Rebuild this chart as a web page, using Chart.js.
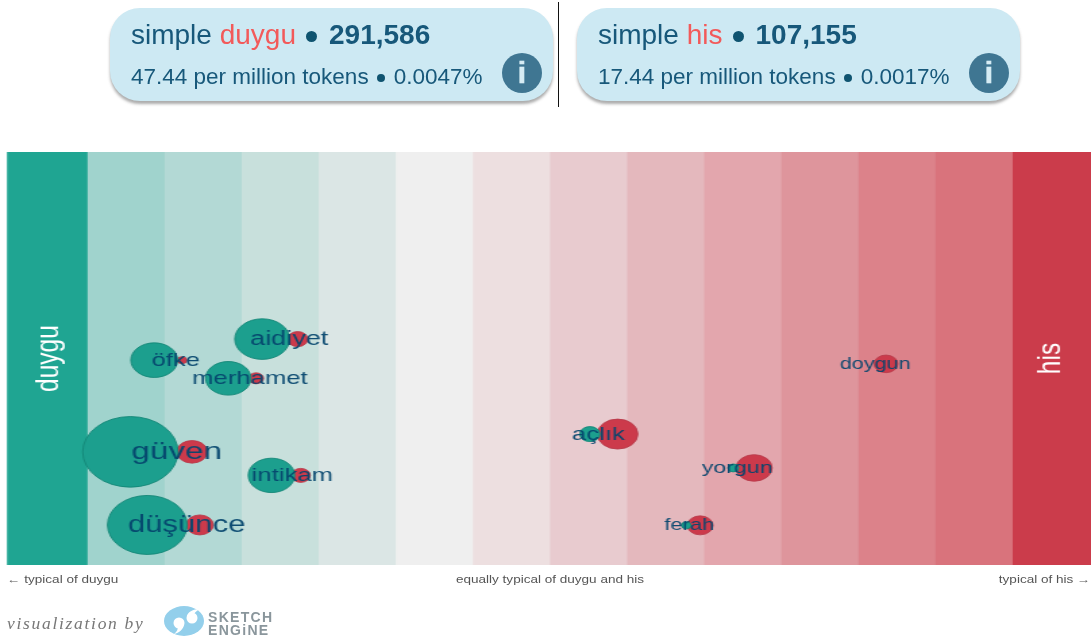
<!DOCTYPE html>
<html>
<head>
<meta charset="utf-8">
<script src="https://cdn.jsdelivr.net/npm/chart.js@4"></script>
<style>
html,body{margin:0;padding:0;background:#fff;width:1091px;height:637px;overflow:hidden;font-family:"Liberation Sans",sans-serif}
#wrap{position:absolute;left:0;top:0;width:808px;height:637px;transform:scaleX(1.35025);transform-origin:0 0;filter:blur(.35px)}
.card{position:absolute;top:8px;width:443px;height:93px;background:#cde9f3;border-radius:30px;box-shadow:0 3px 3px rgba(70,70,70,.45);color:#17587a;filter:blur(.45px)}
.l1{position:absolute;left:21px;top:10px;font-size:28px;line-height:34px;white-space:nowrap}
.l1 em{font-style:normal;color:#f25a5a}
.l1 b{font-weight:700;font-size:28px}
.l2{position:absolute;left:21px;top:56px;font-size:22.5px;line-height:26px;white-space:nowrap}
.dot{display:inline-block;border-radius:50%;background:#0f5470;vertical-align:middle}
.d1{width:11px;height:11px;margin:0 12px 0 10px}
.d2{width:8px;height:8px;margin:0 9px 0 8px}
.info{position:absolute;right:11px;top:45px;width:40px;height:40px;border-radius:50%;background:#3f7692;color:#d6ecf4;font:700 30px/40px "Liberation Sans",sans-serif;text-align:center;-webkit-text-stroke:.6px #d6ecf4}
#sep{position:absolute;left:558px;top:2px;width:1px;height:105px;background:#111}
.foot{position:absolute;top:572px;font:11px/14px "Liberation Sans",sans-serif;color:#555;white-space:nowrap;filter:blur(.3px)}
#viz{position:absolute;left:7px;top:612px;font:italic 17.5px/22px "Liberation Serif",serif;letter-spacing:1.7px;color:#777;white-space:nowrap;filter:blur(.4px)}
#logo{position:absolute;left:163px;top:604px;filter:blur(.4px)}
</style>
</head>
<body>
<div class="card" style="left:110px"><div class="l1">simple <em>duygu</em><span class="dot d1"></span><b>291,586</b></div><div class="l2">47.44 per million tokens<span class="dot d2"></span>0.0047%</div><div class="info">i</div></div>
<div id="sep"></div>
<div class="card" style="left:577px"><div class="l1">simple <em>his</em><span class="dot d1"></span><b>107,155</b></div><div class="l2">17.44 per million tokens<span class="dot d2"></span>0.0017%</div><div class="info">i</div></div>
<div id="wrap"><canvas id="c" width="808" height="637"></canvas></div>
<div class="foot" style="left:7px;transform:scaleX(1.23);transform-origin:0 0">← typical of duygu</div>
<div class="foot" style="left:550px;transform:translateX(-50%) scaleX(1.23)">equally typical of duygu and his</div>
<div class="foot" style="right:0;transform:scaleX(1.23);transform-origin:100% 0">typical of his →</div>
<div id="viz">visualization by</div>
<svg id="logo" width="115" height="33" viewBox="0 0 115 33">
<ellipse cx="21" cy="17" rx="20" ry="15" fill="#93cfeb"/>
<circle cx="16" cy="19" r="5.500" fill="#fff"/><path d="M21 20c0 5-5 9-10 10c3-2 4-5 4-8z" fill="#fff"/>
<circle cx="29" cy="14" r="5.500" fill="#fff"/><path d="M24 13c0-5 6-8 13-8c-4 2-6 4-7 7z" fill="#fff"/>
<text x="45" y="18" font-family="Liberation Sans, sans-serif" font-size="14" font-weight="700" letter-spacing="1.3" fill="#8a969c">SKETCH</text>
<text x="45" y="31" font-family="Liberation Sans, sans-serif" font-size="14" font-weight="700" letter-spacing="1.3" fill="#8a969c">ENGiNE</text>
</svg>
<script>
const words = ["öfke","aidiyet","merhamet","güven","intikam","düşünce","açlık","yorgun","ferah","doygun"];
const rowY = [49.6,54.7,45.2,27.4,21.7,9.7,31.7,23.5,9.6,48.7];
const duyguX = [1.86,3.26,2.82,1.55,3.38,1.77,7.51,9.37,8.76,11.3];
const hisX = [2.22,3.72,3.18,2.35,3.76,2.45,7.87,9.64,8.94,11.35];
const labelX = [2.14,3.61,3.10,2.15,3.65,2.28,7.62,9.42,8.80,11.21];
const duyguR = [17.3,20.3,16.8,35.3,17.2,29.5,7.5,4,3.5,0];
const hisR = [3.5,7.5,5.5,11.3,7,10,15,13.3,9.5,8.8];
const labelSize = [19,20,19,24.6,19,23,19,17.2,16.2,16];
const bandEdges = [-0.05,1,2,3,4,5,6,7,8,9,10,11,12,13,14.01];
const bandColors = ["#1fa592","#a0d3cd","#b3d9d5","#c8e0dc","#dbe6e5","#efefef","#eddfe0","#e8cbcf","#e4b8bd","#e3a6ad","#de959c","#dc828a","#d9737c","#cb3c4b"];
const sideLabels = ["duygu","his"];
const sideX = [0.49,13.49];

const wordsPlugin = {
  id:"words",
  afterDatasetsDraw(chart){
    const {ctx,scales:{x,y}} = chart;
    ctx.save();
    ctx.textAlign="center";ctx.textBaseline="middle";
    ctx.fillStyle="rgba(5,70,110,.95)";
    words.forEach((w,i)=>{
      ctx.font=labelSize[i]+'px "Liberation Sans"';
      ctx.fillText(w,x.getPixelForValue(labelX[i]),y.getPixelForValue(rowY[i])+0.5);
    });
    ctx.fillStyle="#fff";
    ctx.font='24.5px "Liberation Sans"';
    sideLabels.forEach((w,i)=>{
      ctx.save();
      ctx.translate(x.getPixelForValue(sideX[i]),y.getPixelForValue(50));
      ctx.rotate(-Math.PI/2);
      ctx.fillText(w,0,0);
      ctx.restore();
    });
    ctx.restore();
  }
};

new Chart(document.getElementById("c"),{
  data:{datasets:[
    {type:"bubble",label:"duygu",order:1,data:words.map((w,i)=>({x:duyguX[i],y:rowY[i],r:duyguR[i]})),
     backgroundColor:"#1c9f8e",borderColor:"rgba(20,135,120,.9)",borderWidth:1},
    {type:"bubble",label:"his",order:2,data:words.map((w,i)=>({x:hisX[i],y:rowY[i],r:hisR[i]})),
     backgroundColor:"#cc3a4b",borderColor:"rgba(185,60,75,.9)",borderWidth:1},
    {type:"bar",label:"bands",order:3,indexAxis:"y",xAxisID:"x",yAxisID:"y",
     data:bandColors.map((c,i)=>({y:50,x:[bandEdges[i],bandEdges[i+1]]})),
     backgroundColor:bandColors,borderWidth:0,barPercentage:1,categoryPercentage:1}
  ]},
  options:{
    responsive:false,animation:false,devicePixelRatio:1,
    layout:{autoPadding:false,padding:{left:5.18,top:152,right:0,bottom:72}},
    plugins:{legend:{display:false},tooltip:{enabled:false}},
    scales:{
      x:{type:"linear",min:-0.05,max:14.01,display:false,offset:false,beginAtZero:false,grid:{display:false}},
      y:{type:"linear",min:0,max:100,display:false,offset:false,ticks:{stepSize:100},grid:{display:false}}
    }
  },
  plugins:[wordsPlugin]
});
</script>
</body>
</html>
